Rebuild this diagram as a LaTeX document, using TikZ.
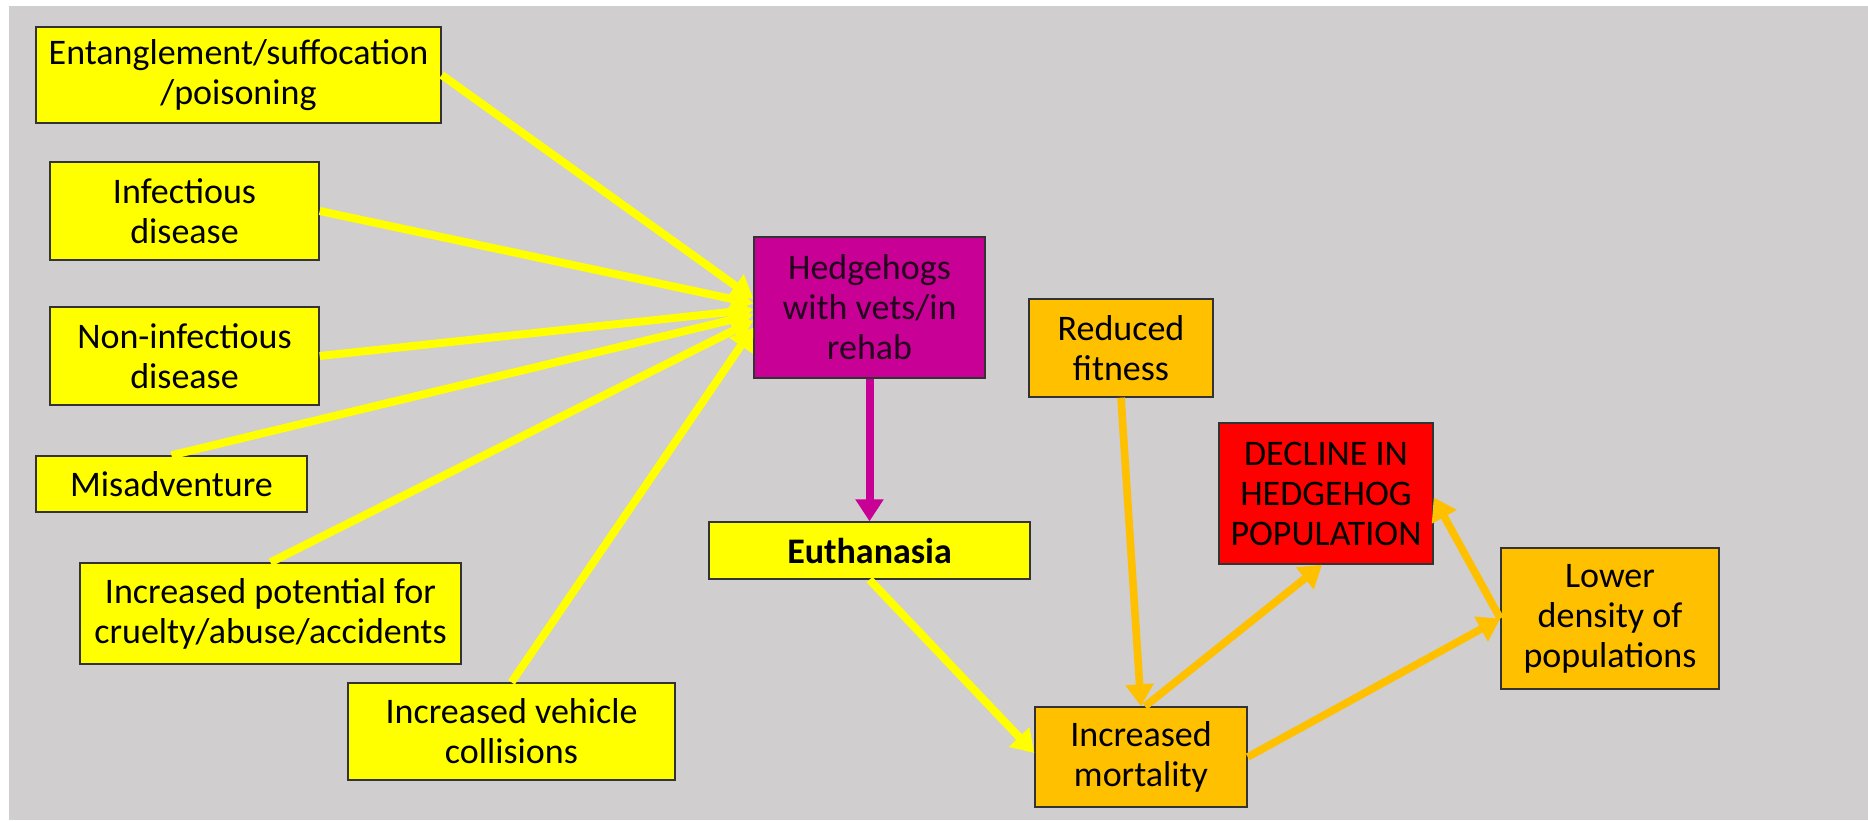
\documentclass[tikz,border=0pt]{standalone}
\usepackage{fontspec}
\setmainfont{Carlito}
\usetikzlibrary{arrows.meta}
\definecolor{bggray}{HTML}{D0CECE}
\definecolor{fillyellow}{HTML}{FFFF00}
\definecolor{fillorange}{HTML}{FFC000}
\definecolor{fillred}{HTML}{FF0000}
\definecolor{fillmagenta}{HTML}{C80096}
\definecolor{magtext}{HTML}{24001F}
\begin{document}
\begin{tikzpicture}[x=0.5pt,y=-0.5pt,
  box/.style={draw=black!80, line width=0.7pt, align=center, inner sep=0pt,
              font=\fontsize{18}{20}\selectfont},
  wh/.style 2 args={minimum width=#1*0.5pt, minimum height=#2*0.5pt},
  ybox/.style={box, fill=fillyellow},
  obox/.style={box, fill=fillorange},
  rbox/.style={box, fill=fillred},
  mbox/.style={box, fill=fillmagenta, text=magtext},
  tip/.style={-{Triangle[width=13.5pt,length=11pt]}},
  yline/.style={draw=fillyellow, line width=4pt, tip},
  oline/.style={draw=fillorange, line width=3.8pt, tip},
  mline/.style={draw=fillmagenta, line width=4pt, tip}
]
\useasboundingbox (0,0) rectangle (1868,820);
% page background
\fill[white] (0,0) rectangle (1868,820);
\fill[bggray] (9,6) rectangle (1868,820);

% causes
\node[ybox, wh={405}{96}]  (ent) at (238.5,75)   {Entanglement/suffocation\\/poisoning};
\node[ybox, wh={269}{98}]  (inf) at (184.5,211)  {Infectious\\disease};
\node[ybox, wh={269}{98}]  (non) at (184.5,356)  {Non-infectious\\disease};
\node[ybox, wh={271}{56}]  (mis) at (171.5,484)  {Misadventure};
\node[ybox, wh={381}{101}] (pot) at (270.5,613.5){Increased potential for\\cruelty/abuse/accidents};
\node[ybox, wh={327}{97}]  (veh) at (511.5,731.5){Increased vehicle\\collisions};

% central chain
\node[mbox, wh={231}{141}] (hed) at (869.5,307.5){Hedgehogs\\with vets/in\\rehab};
\node[ybox, wh={321}{57}]  (eut) at (869.5,550.5){\textbf{Euthanasia}};
\node[obox, wh={184}{98}]  (fit) at (1121,348)   {Reduced\\fitness};
\node[rbox, wh={214}{141}] (dec) at (1326,493.5) {DECLINE IN\\HEDGEHOG\\POPULATION};
\node[obox, wh={218}{141}] (low) at (1610,618.5) {Lower\\density of\\populations};
\node[obox, wh={212}{100}] (mor) at (1141,757)   {Increased\\mortality};

% converging arrows into the rehab box
\draw[yline] (ent.east)  -- ([yshift=4.5pt]hed.west);
\draw[yline] (inf.east)  -- ([yshift=2pt]hed.west);
\draw[yline] (non.east)  -- ([yshift=-1pt]hed.west);
\draw[yline] (mis.north) -- ([yshift=-3.5pt]hed.west);
\draw[yline] (pot.north) -- ([yshift=-6.5pt]hed.west);
\draw[yline] (veh.north) -- ([yshift=-10pt]hed.west);

% outcome chain
\draw[mline] (hed.south) -- (eut.north);
\draw[yline] (eut.south) -- ([yshift=2pt]mor.west);
\draw[oline] (fit.south) -- (mor.north);
\draw[oline] ([xshift=2pt]mor.north) -- ([xshift=-2pt]dec.south);
\draw[oline] (mor.east) -- (low.west);
\draw[oline] (low.west) -- ([yshift=-2pt]dec.east);
\end{tikzpicture}
\end{document}
